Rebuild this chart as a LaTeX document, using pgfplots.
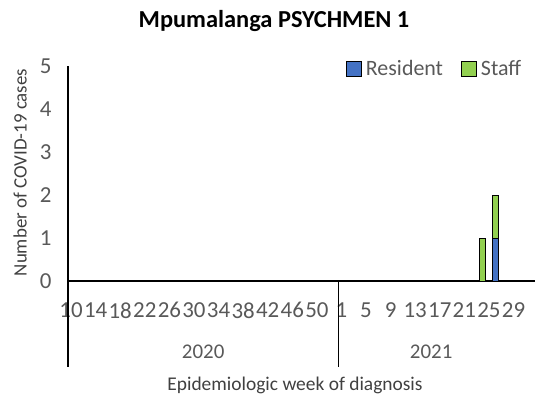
\documentclass[border=0pt]{standalone}
\usepackage{fontspec}
\setmainfont{Carlito}
\usepackage{pgfplots}
\pgfplotsset{compat=1.18}
\definecolor{resblue}{HTML}{4472C4}
\definecolor{stgreen}{HTML}{92D050}
\definecolor{txtgray}{HTML}{595959}
\definecolor{lblgray}{HTML}{404040}
\begin{document}
\begin{tikzpicture}[x=1bp,y=1bp]
\path[use as bounding box] (0,0) rectangle (536,400);
\begin{axis}[
  at={(68bp,119bp)}, anchor=south west,
  scale only axis, width=467bp, height=215bp,
  xmin=-0.5, xmax=75.5, ymin=0, ymax=5,
  stack plots=y,
  axis x line=bottom, axis y line=left,
  axis line style={-, black, line width=1.2bp},
  clip=false,
  ytick={0,1,2,3,4,5},
  xtick={0,4,8,12,16,20,24,28,32,36,40,44,48,52,56,60,64,68,72},
  xticklabels={10,14,18,22,26,30,34,38,42,46,50,1,5,9,13,17,21,25,29},
  major tick length=0pt,
  /pgf/number format/assume math mode=true,
  ticklabel style={font=\fontsize{23}{23}\selectfont, text=txtgray},
  xticklabel style={yshift=-18bp},
  yticklabel style={xshift=-13bp},
  legend columns=2,
  legend style={at={(0.595,0.986)}, anchor=west, draw=none, fill=none, inner sep=0pt,
    font=\fontsize{22}{22}\selectfont, text=txtgray,
    /tikz/every odd column/.append style={column sep=2bp},
    /tikz/every even column/.append style={column sep=16bp}},
  legend cell align=left,
]
\addplot[ybar, bar width=6bp, bar shift=0pt, fill=resblue, draw=black, line width=0.8bp, forget plot] coordinates {(67,0) (69,1)};
\addplot[ybar, bar width=6bp, bar shift=0pt, fill=stgreen, draw=black, line width=0.8bp, forget plot] coordinates {(67,1) (69,1)};
\addlegendimage{legend image code/.code={\draw[fill=resblue,draw=black,line width=0.9bp] (0bp,-7.5bp) rectangle (15bp,7.5bp);}}
\addlegendentry{Resident}
\addlegendimage{legend image code/.code={\draw[fill=stgreen,draw=black,line width=0.9bp] (0bp,-7.5bp) rectangle (15bp,7.5bp);}}
\addlegendentry{Staff}
\draw[black, line width=1.2bp] (axis cs:-0.5,0) -- ++(0bp,-86bp);
\draw[black, line width=1.2bp] (axis cs:43.5,0) -- ++(0bp,-86bp);
\node[font=\fontsize{21}{21}\selectfont, text=txtgray] at ([yshift=-71bp]axis cs:21.5,0) {2020};
\node[font=\fontsize{21}{21}\selectfont, text=txtgray] at ([yshift=-71bp]axis cs:58.6,0) {2021};
\end{axis}
\node[font=\bfseries\fontsize{24.5}{24.5}\selectfont, text=black] at (274,379) {Mpumalanga PSYCHMEN 1};
\node[font=\fontsize{19}{19}\selectfont, text=lblgray, rotate=90] at (20,227.5) {Number of COVID-19 cases};
\node[font=\fontsize{19.5}{19.5}\selectfont, text=lblgray, anchor=base] at (295,9.5) {Epidemiologic week of diagnosis};
\end{tikzpicture}
\end{document}
